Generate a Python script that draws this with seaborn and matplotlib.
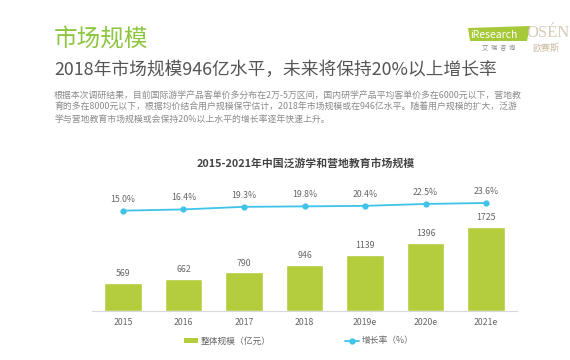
import matplotlib
matplotlib.use("Agg")
import matplotlib.pyplot as plt
from matplotlib.patches import Patch, Polygon
from matplotlib.lines import Line2D
import seaborn as sns
import pandas as pd

years = ["2015", "2016", "2017", "2018", "2019e", "2020e", "2021e"]
market_size = [569, 662, 790, 946, 1139, 1396, 1725]
growth_rate = [15.0, 16.4, 19.3, 19.8, 20.4, 22.5, 23.6]

title = "市场规模"
subtitle = "2018年市场规模946亿水平，未来将保持20%以上增长率"
body_lines = [
    "根据本次调研结果，目前国际游学产品客单价多分布在2万-5万区间，国内研学产品平均客单价多在6000元以下，营地教",
    "育的多在8000元以下，根据均价结合用户规模保守估计，2018年市场规模或在946亿水平。随着用户规模的扩大，泛游",
    "学与营地教育市场规模或会保持20%以上水平的增长率逐年快速上升。",
]
chart_title = "2015-2021年中国泛游学和营地教育市场规模"
legend_bar = "整体规模（亿元）"
legend_line = "增长率（%）"

BAR_C = "#b3cd3c"
LINE_C = "#3ec3ea"
TXT_C = "#666666"

sns.set_theme(style="white")
plt.rcParams["font.family"] = ["Noto Sans CJK SC", "DejaVu Sans"]

df = pd.DataFrame({"year": years, "size": market_size, "rate": growth_rate})

fig = plt.figure(figsize=(5.7, 3.6), dpi=100)
fig.patch.set_facecolor("white")
ax = fig.add_axes([92 / 570, 49 / 360, 425 / 570, 121 / 360])

sns.barplot(data=df, x="year", y="size", order=years, color=BAR_C,
            width=0.62, saturation=1, ax=ax)
for c in ax.containers:
    ax.bar_label(c, labels=[str(v) for v in market_size], padding=3.5,
                 fontsize=6.3, color=TXT_C)
ax.set_ylim(0, 2476)
ax.set_xlim(-0.51, 6.51)
ax.set_xlabel("")
ax.set_ylabel("")
ax.set_yticks([])
ax.tick_params(axis="x", length=0, pad=5, labelsize=6.3, labelcolor=TXT_C)
for s in ["top", "left", "right"]:
    ax.spines[s].set_visible(False)
ax.spines["bottom"].set_color("#d9d9d9")
ax.spines["bottom"].set_linewidth(0.8)

ax2 = ax.twinx()
sns.pointplot(data=df, x="year", y="rate", order=years, color=LINE_C,
              markers="o", markersize=3.5, linewidth=1.3, ax=ax2)
ax2.set_ylim(-97.1, 38.1)
ax2.set_xlim(-0.51, 6.51)
ax2.set_yticks([])
ax2.set_ylabel("")
for s in ["top", "left", "right", "bottom"]:
    ax2.spines[s].set_visible(False)
for i, v in enumerate(growth_rate):
    ax2.annotate(f"{v:.1f}%", (i, v), xytext=(0, 5), textcoords="offset points",
                 ha="center", va="bottom", fontsize=6.3, color=TXT_C)

handles = [Patch(facecolor=BAR_C, edgecolor="none"),
           Line2D([], [], color=LINE_C, marker="o", markersize=3.5, linewidth=1.3)]
fig.legend(handles, [legend_bar, legend_line], loc="center",
           bbox_to_anchor=(299 / 570, 1 - 341 / 360), ncol=2, frameon=False,
           fontsize=6.3, labelcolor=TXT_C, columnspacing=8.5, handlelength=1.6,
           handleheight=0.6, handletextpad=0.3)

fig.text(306 / 570, 1 - 163 / 360, chart_title, ha="center", va="center",
         fontsize=7.8, fontweight="bold", color="#444444")

fig.text(54 / 570, 1 - 39 / 360, title, ha="left", va="center",
         fontsize=17, color="#8cc63e")
fig.text(54 / 570, 1 - 70 / 360, subtitle, ha="left", va="center",
         fontsize=12.8, color="#555555")
for k, line in enumerate(body_lines):
    fig.text(54 / 570, 1 - (95 + k * 12.7) / 360, line, ha="left", va="center",
             fontsize=6.4, color="#8a8a8a")

# logo
poly = Polygon([(468 / 570, 1 - 28 / 360), (530 / 570, 1 - 26 / 360),
                (527 / 570, 1 - 41 / 360), (470 / 570, 1 - 41 / 360)],
               closed=True, transform=fig.transFigure, facecolor="#a6c93a",
               edgecolor="none")
fig.patches.append(poly)
fig.text(470 / 570, 1 - 34.5 / 360, "iResearch", ha="left", va="center",
         fontsize=7.5, color="white")
fig.text(499 / 570, 1 - 48 / 360, "艾  瑞  咨  询", ha="center", va="center",
         fontsize=4.5, color="#888888")
fig.text(548 / 570, 1 - 33 / 360, "OSÉN", ha="center", va="center",
         fontsize=12, color="#cfc3a8", family=["Liberation Serif", "DejaVu Serif"],
         alpha=0.85)
fig.text(546 / 570, 1 - 48 / 360, "欧赛斯", ha="center", va="center",
         fontsize=6.5, color="#c9bca0")

fig.savefig("out.png", dpi=100, facecolor="white")
